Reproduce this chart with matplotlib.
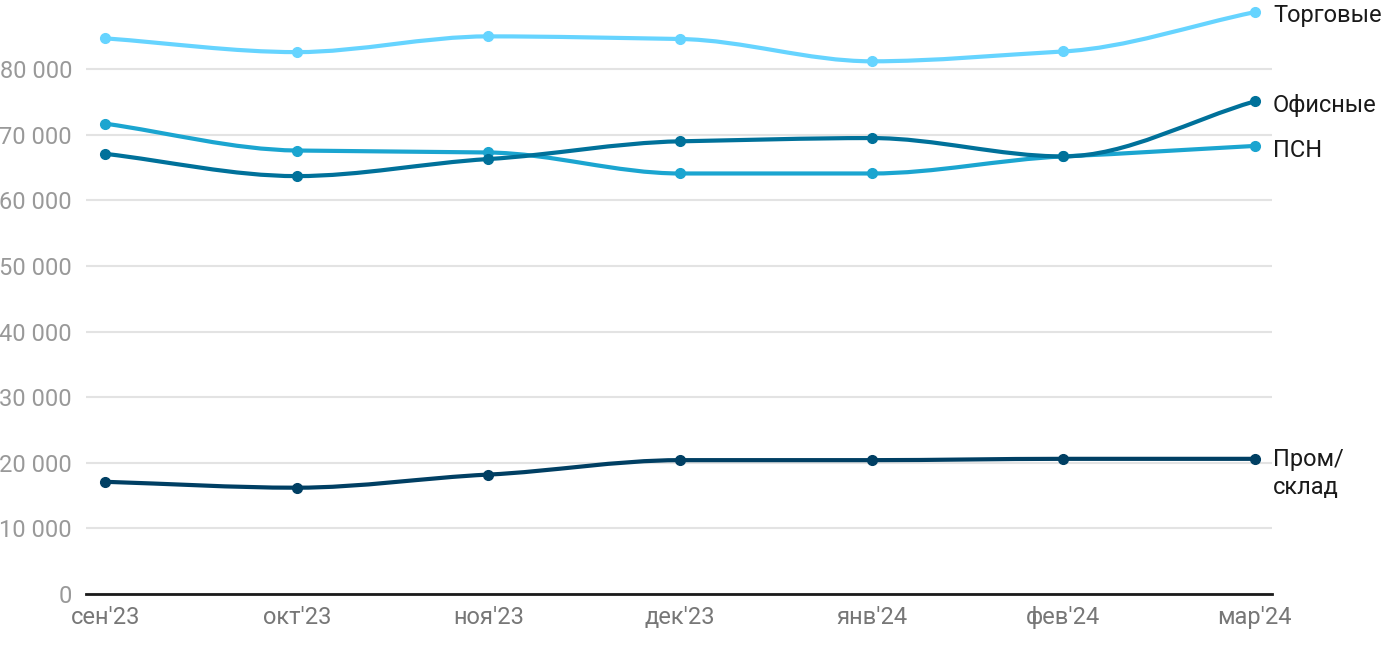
import numpy as np
import matplotlib
matplotlib.use('Agg')
import matplotlib.pyplot as plt
from matplotlib.path import Path
from matplotlib.patches import PathPatch
from matplotlib.ticker import FuncFormatter

plt.rcParams['font.family'] = ['Roboto', 'DejaVu Sans']

months = ["сен'23", "окт'23", "ноя'23", "дек'23", "янв'24", "фев'24", "мар'24"]
torgovye = [84700, 82600, 85000, 84600, 81200, 82700, 88700]
ofisnye = [67100, 63700, 66300, 69000, 69500, 66700, 75100]
psn = [71700, 67600, 67300, 64100, 64100, 66700, 68300]
prom = [17100, 16200, 18200, 20400, 20400, 20600, 20600]

series = [
    ("Торговые", torgovye, '#66d4ff'),
    ("ПСН", psn, '#1ba5d0'),
    ("Офисные", ofisnye, '#00719a'),
    ("Пром/\nсклад", prom, '#003f63'),
]


def monotone_path(x, y):
    # monotone cubic (Fritsch-Carlson) as bezier segments
    x = np.asarray(x, float)
    y = np.asarray(y, float)
    h = np.diff(x)
    d = np.diff(y) / h
    m = np.zeros_like(y)
    m[0], m[-1] = d[0], d[-1]
    for i in range(1, len(y) - 1):
        if d[i - 1] * d[i] <= 0:
            m[i] = 0
        else:
            m[i] = (h[i - 1] + h[i]) * 2 / ((2 * h[i] + h[i - 1]) / d[i - 1] + (h[i] + 2 * h[i - 1]) / d[i])
    verts = [(x[0], y[0])]
    codes = [Path.MOVETO]
    for i in range(len(x) - 1):
        dx = h[i] / 3
        verts += [(x[i] + dx, y[i] + m[i] * dx), (x[i + 1] - dx, y[i + 1] - m[i + 1] * dx), (x[i + 1], y[i + 1])]
        codes += [Path.CURVE4] * 3
    return Path(verts, codes)


fig = plt.figure(figsize=(14, 6.5), dpi=100)
ax = fig.add_axes([0.0614, 0.0862, 0.8472, 0.9083])

xs = np.arange(len(months))
for name, vals, color in series:
    ax.add_patch(PathPatch(monotone_path(xs, vals), facecolor='none', edgecolor=color, lw=3, zorder=3))
    ax.plot(xs, vals, 'o', color=color, ms=7, zorder=4)

ax.set_xlim(-0.1, 6.09)
ax.set_ylim(0, 90000)
ax.set_yticks(np.arange(0, 90000, 10000))
ax.yaxis.set_major_formatter(FuncFormatter(lambda v, p: f"{int(v):,}".replace(',', ' ')))
ax.set_xticks(xs)
ax.set_xticklabels(months)
ax.grid(axis='y', color='#e3e3e3', lw=1.5)
ax.set_axisbelow(True)
for s in ['top', 'right', 'left']:
    ax.spines[s].set_visible(False)
ax.spines['bottom'].set_color('#1a1a1a')
ax.spines['bottom'].set_linewidth(2)
ax.tick_params(axis='y', length=0, labelsize=17, labelcolor='#999999', pad=10)
ax.tick_params(axis='x', length=0, labelsize=17, labelcolor='#777777', pad=9)

for name, vals, color in series:
    if '\n' in name:
        ax.text(6.095, 22300, name, ha='left', va='top', fontsize=17, color='#1a1a1a',
                clip_on=False, linespacing=1.3)
    else:
        yy = {"Торговые": 88200, "ПСН": 67600, "Офисные": 74400}[name]
        ax.text(6.095, yy, name, ha='left', va='center', fontsize=17, color='#1a1a1a', clip_on=False)

fig.savefig('out.png', dpi=100)
